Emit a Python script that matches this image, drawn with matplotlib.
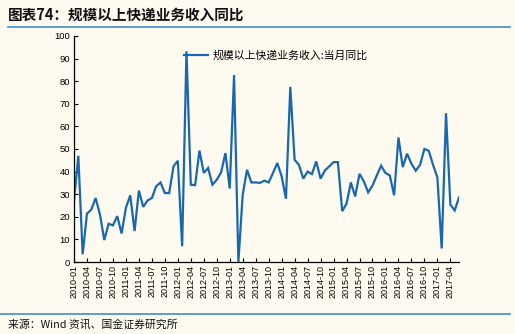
import matplotlib
matplotlib.use("Agg")
import matplotlib.pyplot as plt
from matplotlib.lines import Line2D
import numpy as np

plt.rcParams['font.family'] = ['Liberation Sans', 'Noto Sans CJK SC', 'DejaVu Sans']

# Monthly YoY growth of express delivery revenue (above designated size), %
months = [f"{y}-{m:02d}" for y in range(2010, 2018) for m in range(1, 13)][:90]
yoy = [27, 47, 3.4, 21.4, 23.2, 28.3, 21, 9.7, 16.9, 16.2, 20.3, 12.6,
       24, 29.5, 13.7, 31.6, 24.4, 27.2, 28.3, 33.5, 35.2, 30.5, 30.5, 42.3,
       44.8, 7, 93.2, 34.2, 34, 49.3, 39.4, 41.6, 34.2, 36.4, 39.6, 48.2,
       32.5, 82.7, 0, 29.8, 40.8, 35.2, 35.2, 35, 36, 35.2, 39.4, 43.8,
       37.9, 28, 77.5, 45.2, 43, 36.9, 40, 38.9, 44.5, 36.9, 40.5, 42.3,
       44.2, 44.2, 22.5, 25.8, 35.2, 29, 39, 35.7, 30.8, 33.8, 38.3, 42.6,
       39.4, 38.3, 29.5, 55.1, 42, 47.9, 43.5, 40.4, 43, 50, 49.2, 43,
       37.4, 6, 65.8, 25.4, 22.8, 28.6]
series_name = "规模以上快递业务收入:当月同比"
title = "图表74：规模以上快递业务收入同比"
source = "来源：Wind 资讯、国金证券研究所"

bg = '#FEFAF0'
line_color = '#1868B0'
rule_color = '#3F8FC6'

fig = plt.figure(figsize=(5.15, 3.34), dpi=100, facecolor=bg)
ax = fig.add_axes([74/515, 1-262/334, (459-74)/515, (262-36)/334])
ax.set_facecolor(bg)

x = np.arange(len(yoy))
ax.plot(x, yoy, color=line_color, lw=1.6, label=series_name, solid_joinstyle='miter')

ax.set_xlim(0, len(yoy) - 1)
ax.set_ylim(0, 100)
ax.set_yticks(range(0, 101, 10))
tick_idx = x[::3]
ax.set_xticks(tick_idx)
ax.set_xticklabels([months[i] for i in tick_idx], rotation=90, fontsize=6.5)
ax.tick_params(axis='y', labelsize=6.8, direction='in', length=3, width=0.8, pad=3)
ax.tick_params(axis='x', direction='in', length=3, width=0.8, pad=2)
for s in ['top', 'right']:
    ax.spines[s].set_visible(False)
for s in ['left', 'bottom']:
    ax.spines[s].set_color('black')
    ax.spines[s].set_linewidth(0.9)

leg = ax.legend(loc='upper left', bbox_to_anchor=(0.26, 0.98), frameon=False,
                prop={'family': ['Noto Sans CJK SC', 'DejaVu Sans'], 'size': 7.8},
                handlelength=2.2, handletextpad=0.5)

# header and footer
fig.text(8/515, 1-15/334, title, fontsize=10.5, fontweight='bold', style='italic',
         family=['Noto Sans CJK SC', 'DejaVu Sans'], va='center', ha='left', color='#111111')
fig.add_artist(Line2D([8/515, 510/515], [1-27/334, 1-27/334], color=rule_color, lw=1.2))
fig.add_artist(Line2D([0/515, 510/515], [1-314/334, 1-314/334], color=rule_color, lw=1.2))
fig.text(8/515, 1-325/334, source, fontsize=7.8, family=['Noto Sans CJK SC', 'DejaVu Sans'],
         va='center', ha='left', color='#111111')

fig.savefig('out.png', dpi=100, facecolor=bg)
